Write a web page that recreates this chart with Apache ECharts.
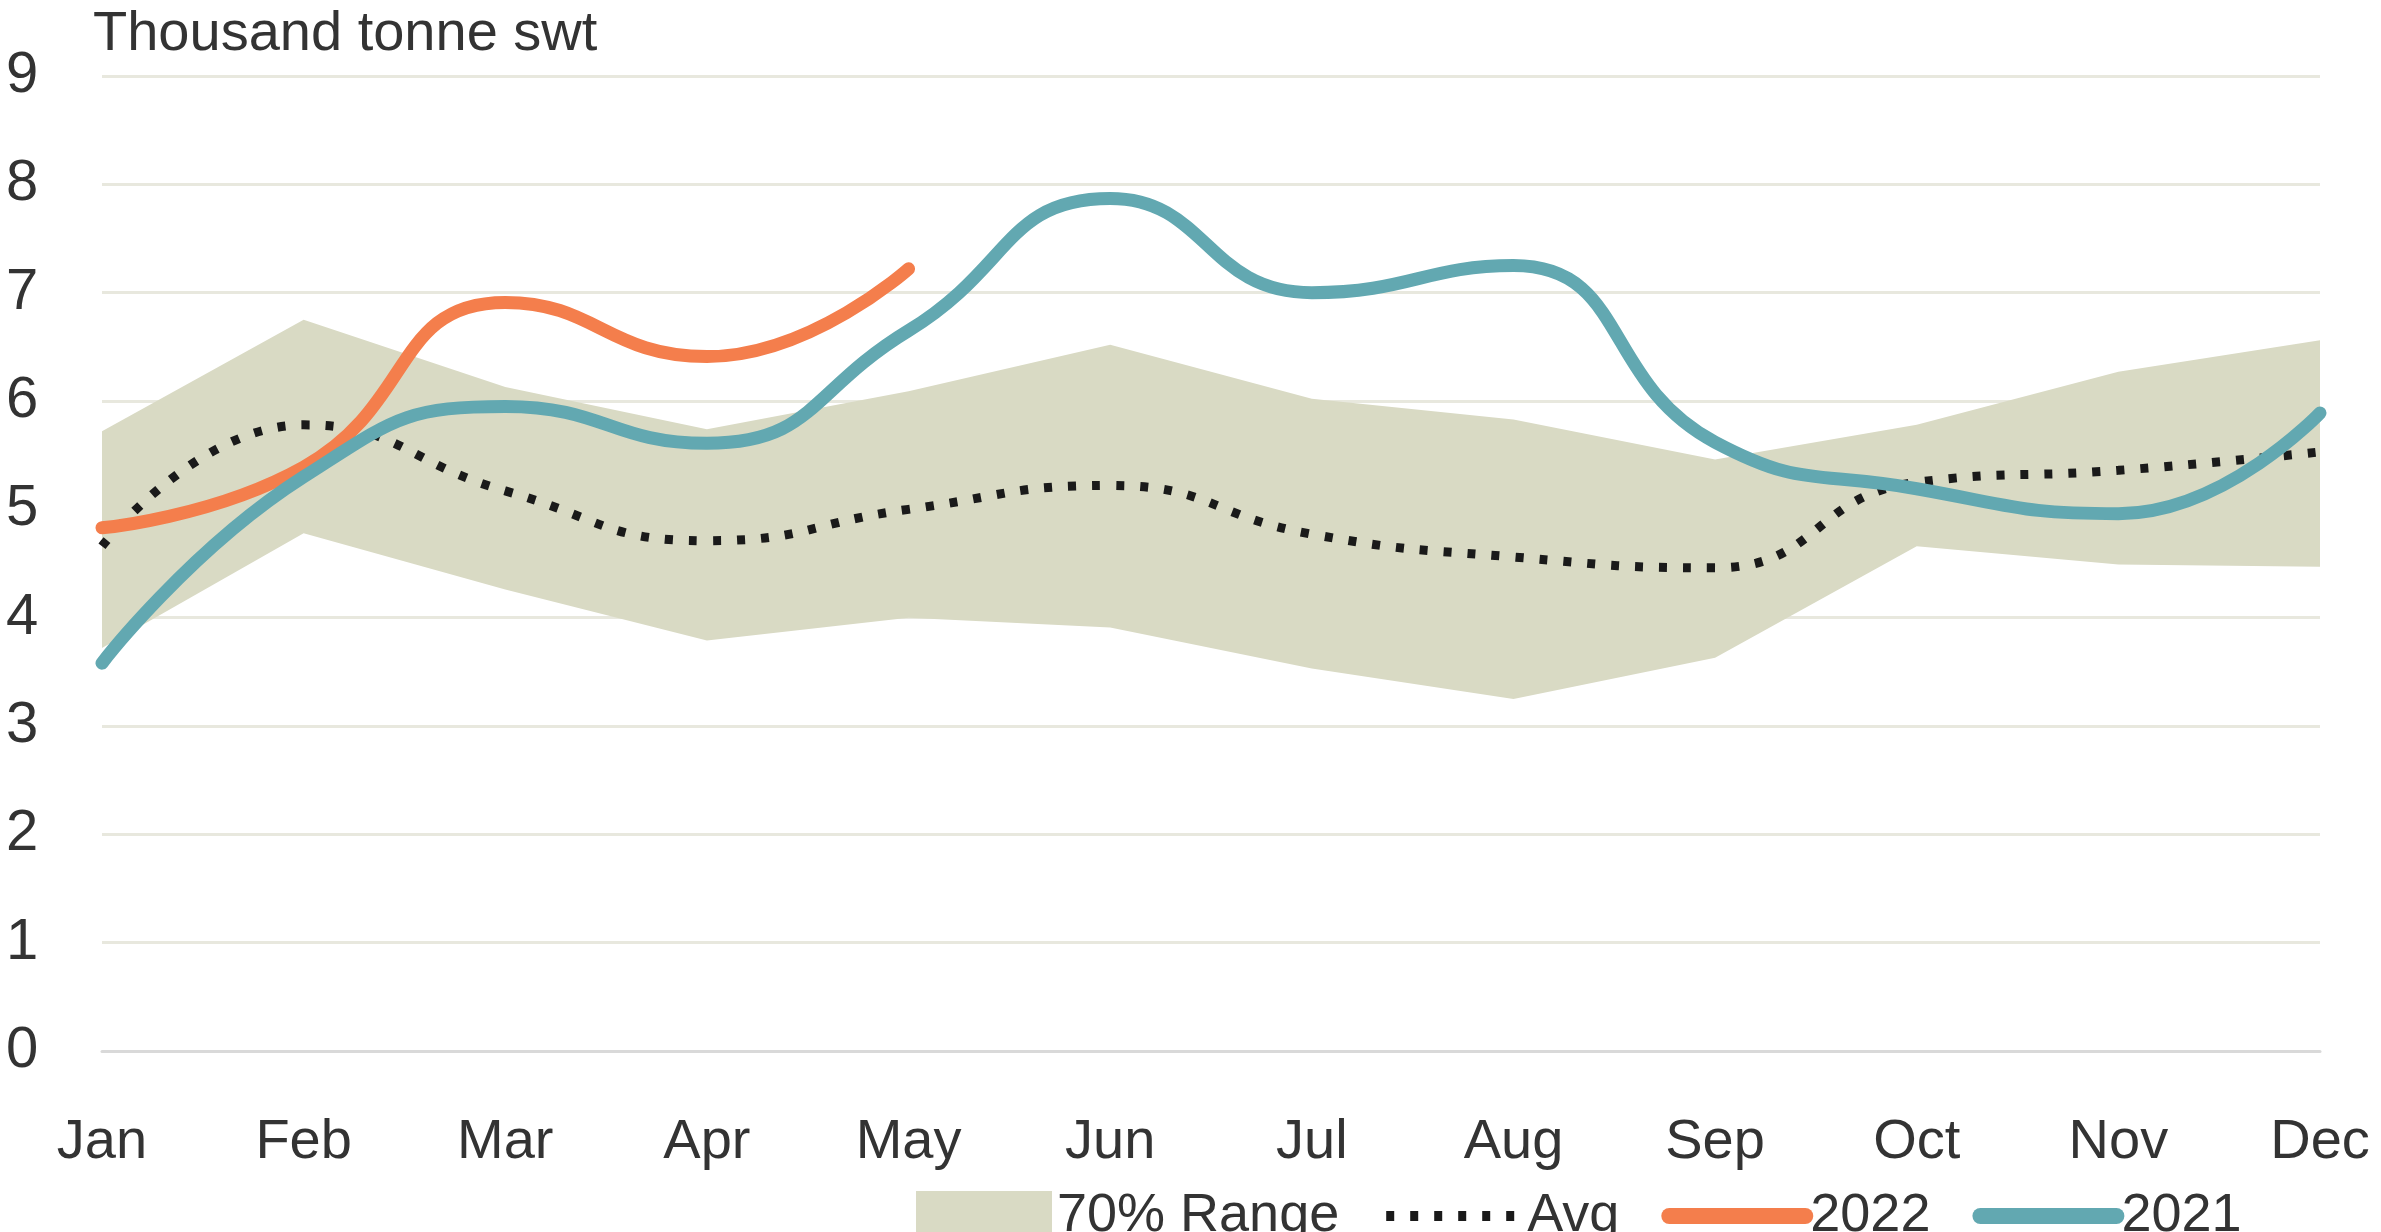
<!DOCTYPE html>
<html>
<head>
<meta charset="utf-8">
<script src="https://cdn.jsdelivr.net/npm/echarts@6/dist/echarts.min.js"></script>
<style>
  html, body { margin: 0; padding: 0; background: #fff; }
  #chart { width: 2381px; height: 1232px; }
</style>
</head>
<body>
<div id="chart"></div>
<script>
// months on the x axis
const months = ['Jan', 'Feb', 'Mar', 'Apr', 'May', 'Jun', 'Jul', 'Aug', 'Sep', 'Oct', 'Nov', 'Dec']
// 70% range band (low / high)
const rangeLow = [3.72, 4.78, 4.26, 3.79, 4.0, 3.91, 3.53, 3.25, 3.63, 4.66, 4.49, 4.47]
const rangeHigh = [5.72, 6.75, 6.13, 5.74, 6.09, 6.52, 6.02, 5.83, 5.46, 5.78, 6.27, 6.56]
// average
const avg = [4.66, 5.78, 5.17, 4.71, 5.0, 5.22, 4.77, 4.56, 4.46, 5.25, 5.36, 5.53]
// 2022 (Jan-May only)
const y2022 = [4.83, 5.39, 6.91, 6.41, 7.22]
// 2021
const y2021 = [3.58, 5.3, 5.95, 5.61, 6.65, 7.87, 7.0, 7.25, 5.62, 5.19, 4.96, 5.89]

const bandColor = '#D9DAC4'
const fontFamily = 'Liberation Sans, Arial, sans-serif'
const textColor = '#333'

const chart = echarts.init(document.getElementById('chart'))

chart.setOption({
  animation: false,
  backgroundColor: '#fff',
  title: {
    text: 'Thousand tonne swt',
    left: 88,
    top: 2,
    textStyle: {
      fontFamily: fontFamily,
      fontSize: 56,
      fontWeight: 'normal',
      color: textColor
    }
  },
  grid: {
    left: 102,
    right: 61,
    top: 76,
    bottom: 181
  },
  legend: {
    left: 911,
    top: 1184,
    itemWidth: 136,
    itemHeight: 50,
    itemGap: 42,
    textStyle: {
      fontFamily: fontFamily,
      fontSize: 54,
      color: textColor
    },
    data: [
      { name: '70% Range', icon: 'rect' },
      { name: 'Avg', itemStyle: { opacity: 0 }, lineStyle: { width: 10 } },
      { name: '2022', itemStyle: { opacity: 0 }, lineStyle: { width: 16 } },
      { name: '2021', itemStyle: { opacity: 0 }, lineStyle: { width: 16 } }
    ]
  },
  xAxis: {
    type: 'category',
    data: months,
    boundaryGap: false,
    axisLine: { show: true, lineStyle: { color: '#D9D9D9', width: 3 } },
    axisTick: { show: false },
    axisLabel: {
      margin: 64,
      fontFamily: fontFamily,
      fontSize: 56,
      color: textColor,
      interval: 0
    }
  },
  yAxis: {
    type: 'value',
    min: 0,
    max: 9,
    interval: 1,
    axisLine: { show: false },
    axisTick: { show: false },
    splitLine: { lineStyle: { color: '#E8E8DE', width: 3 } },
    axisLabel: {
      align: 'left',
      margin: 96,
      fontFamily: fontFamily,
      fontSize: 58,
      color: textColor
    }
  },
  series: [
    {
      name: 'rangeBase',
      type: 'line',
      stack: 'band',
      data: rangeLow,
      symbol: 'none',
      lineStyle: { width: 0 },
      silent: true
    },
    {
      name: '70% Range',
      type: 'line',
      stack: 'band',
      data: rangeHigh.map((h, i) => +(h - rangeLow[i]).toFixed(3)),
      symbol: 'none',
      lineStyle: { width: 0 },
      itemStyle: { color: bandColor },
      areaStyle: { color: bandColor, opacity: 1 }
    },
    {
      name: 'Avg',
      type: 'line',
      data: avg,
      smooth: 0.5,
      symbol: 'none',
      itemStyle: { color: '#1A1A1A' },
      lineStyle: {
        color: '#1A1A1A',
        width: 9,
        type: [8, 16],
        cap: 'butt'
      },
      z: 3
    },
    {
      name: '2022',
      type: 'line',
      data: y2022,
      smooth: 0.5,
      symbol: 'none',
      itemStyle: { color: '#F47E4C' },
      lineStyle: { color: '#F47E4C', width: 13, cap: 'round' },
      z: 4
    },
    {
      name: '2021',
      type: 'line',
      data: y2021,
      smooth: 0.5,
      symbol: 'none',
      itemStyle: { color: '#62A8B1' },
      lineStyle: { color: '#62A8B1', width: 13, cap: 'round' },
      z: 4
    }
  ]
})
</script>
</body>
</html>
